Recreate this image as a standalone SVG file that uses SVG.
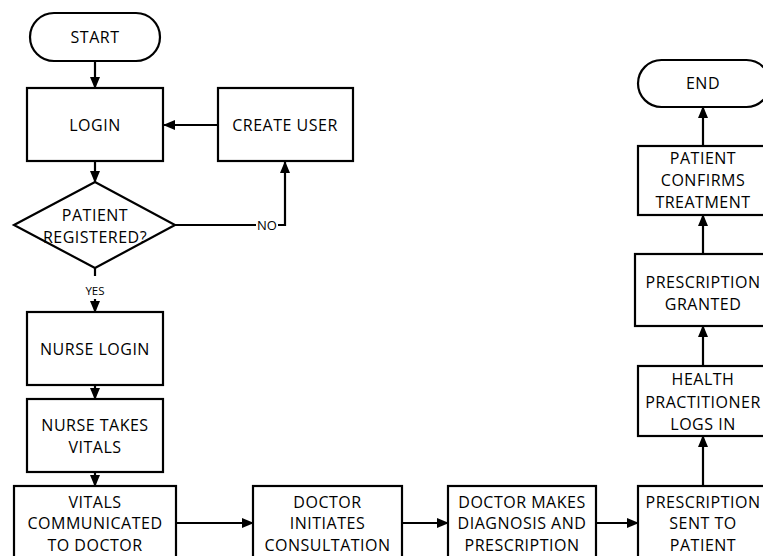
<svg xmlns="http://www.w3.org/2000/svg" width="763" height="556" viewBox="0 0 763 556">
  <style>
    .box { fill: #ffffff; stroke: #000000; stroke-width: 2.2; }
    .lbl { font-family: "Open Sans", "Liberation Sans", sans-serif; font-size: 16px; letter-spacing: 0.5px; fill: #000000; text-anchor: middle; dominant-baseline: central; }
    .small { font-family: "Open Sans", "Liberation Sans", sans-serif; font-size: 11.5px; fill: #000000; text-anchor: middle; dominant-baseline: central; }
    .edge { fill: none; stroke: #000000; stroke-width: 2.2; }
    .arr { marker-end: url(#head); }
  </style>
  <defs>
    <marker id="head" markerUnits="userSpaceOnUse" markerWidth="12" markerHeight="12" viewBox="0 0 12 12" refX="11" refY="6" orient="auto">
      <path d="M0,1 L12,6 L0,11 Z" fill="#000000"/>
    </marker>
  </defs>

  <!-- connectors -->
  <g id="connectors">
    <path class="edge arr" d="M95,61 V88"/>
    <path class="edge arr" d="M218,125 H164"/>
    <path class="edge arr" d="M95,161 V182"/>
    <path class="edge arr" d="M175,225 H285 V162"/>
    <path class="edge" d="M95,268 V276"/>
    <path class="edge arr" d="M95,299 V312"/>
    <path class="edge arr" d="M95,385 V399"/>
    <path class="edge arr" d="M95,472 V486"/>
    <path class="edge arr" d="M176,523 H253"/>
    <path class="edge arr" d="M402,523 H448"/>
    <path class="edge arr" d="M596,523 H638"/>
    <path class="edge arr" d="M703,486 V436"/>
    <path class="edge arr" d="M703,366 V326"/>
    <path class="edge arr" d="M703,254 V215"/>
    <path class="edge arr" d="M703,146 V107"/>
    <rect x="256" y="217" width="22" height="16" fill="#ffffff"/>
    <text class="small" x="267" y="225" style="font-size:13px">NO</text>
    <text class="small" x="95" y="290">YES</text>
  </g>

  <g id="start">
    <rect class="box" x="30" y="13" width="130" height="48" rx="24" ry="24"/>
    <text class="lbl" x="95" y="37">START</text>
  </g>

  <g id="login">
    <rect class="box" x="27" y="88" width="136" height="73"/>
    <text class="lbl" x="95" y="125">LOGIN</text>
  </g>

  <g id="create-user">
    <rect class="box" x="218" y="88" width="135" height="73"/>
    <text class="lbl" x="285" y="125">CREATE USER</text>
  </g>

  <g id="patient-registered">
    <polygon class="box" points="14,225 95,182 175,225 95,268"/>
    <text class="lbl" x="95" y="215">PATIENT</text>
    <text class="lbl" x="95" y="237">REGISTERED?</text>
  </g>

  <g id="nurse-login">
    <rect class="box" x="27" y="312" width="136" height="73"/>
    <text class="lbl" x="95" y="349">NURSE LOGIN</text>
  </g>

  <g id="nurse-takes-vitals">
    <rect class="box" x="27" y="399" width="136" height="73"/>
    <text class="lbl" x="95" y="425">NURSE TAKES</text>
    <text class="lbl" x="95" y="447">VITALS</text>
  </g>

  <g id="vitals-communicated">
    <rect class="box" x="14" y="486" width="162" height="80"/>
    <text class="lbl" x="95" y="502">VITALS</text>
    <text class="lbl" x="95" y="523">COMMUNICATED</text>
    <text class="lbl" x="95" y="545">TO DOCTOR</text>
  </g>

  <g id="doctor-initiates">
    <rect class="box" x="253" y="486" width="149" height="80"/>
    <text class="lbl" x="327.5" y="502">DOCTOR</text>
    <text class="lbl" x="327.5" y="523">INITIATES</text>
    <text class="lbl" x="327.5" y="545">CONSULTATION</text>
  </g>

  <g id="doctor-diagnosis">
    <rect class="box" x="448" y="486" width="148" height="80"/>
    <text class="lbl" x="522" y="502">DOCTOR MAKES</text>
    <text class="lbl" x="522" y="523">DIAGNOSIS AND</text>
    <text class="lbl" x="522" y="545">PRESCRIPTION</text>
  </g>

  <g id="prescription-sent">
    <rect class="box" x="638" y="486" width="132" height="80"/>
    <text class="lbl" x="703" y="502">PRESCRIPTION</text>
    <text class="lbl" x="703" y="523">SENT TO</text>
    <text class="lbl" x="703" y="545">PATIENT</text>
  </g>

  <g id="practitioner-logs-in">
    <rect class="box" x="638" y="366" width="132" height="70"/>
    <text class="lbl" x="703" y="379">HEALTH</text>
    <text class="lbl" x="703" y="402">PRACTITIONER</text>
    <text class="lbl" x="703" y="424">LOGS IN</text>
  </g>

  <g id="prescription-granted">
    <rect class="box" x="635" y="254" width="135" height="72"/>
    <text class="lbl" x="703" y="282">PRESCRIPTION</text>
    <text class="lbl" x="703" y="304">GRANTED</text>
  </g>

  <g id="patient-confirms">
    <rect class="box" x="638" y="146" width="132" height="69"/>
    <text class="lbl" x="703" y="158">PATIENT</text>
    <text class="lbl" x="703" y="180">CONFIRMS</text>
    <text class="lbl" x="703" y="202">TREATMENT</text>
  </g>

  <g id="end">
    <rect class="box" x="638" y="60" width="132" height="47" rx="23.5" ry="23.5"/>
    <text class="lbl" x="703" y="83">END</text>
  </g>
</svg>
